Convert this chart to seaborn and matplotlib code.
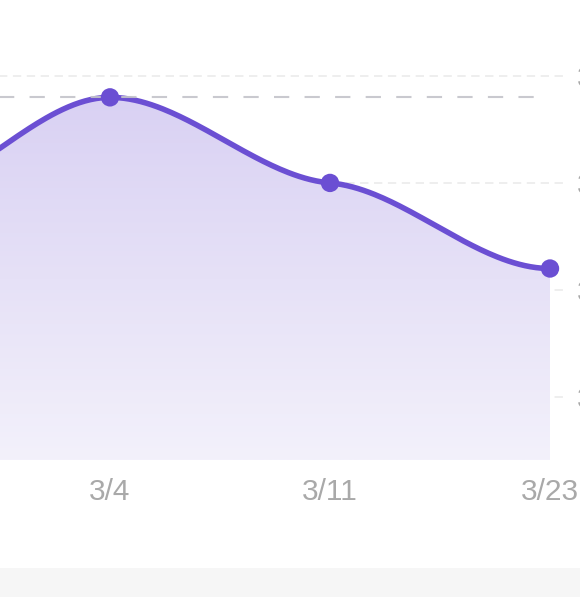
import numpy as np
import pandas as pd
import matplotlib
matplotlib.use("Agg")
import matplotlib.pyplot as plt
import seaborn as sns
from matplotlib.colors import LinearSegmentedColormap
from matplotlib.patches import Rectangle

# ---- data ----
dates = ["2/26", "3/4", "3/11", "3/23"]
values = [33.7, 35.6, 34.0, 32.4]
y_ticks = [30, 32, 34, 36]

LINE = "#6b4fd3"
GRAY_TXT = "#a9a9a9"


def smooth(xs, ys, n=80, k=0.22):
    # cubic hermite, flat at ends and at peaks
    xs = np.asarray(xs, float)
    ys = np.asarray(ys, float)
    m = np.zeros(len(ys))
    for i in range(1, len(ys) - 1):
        if (ys[i] - ys[i - 1]) * (ys[i + 1] - ys[i]) > 0:
            m[i] = k * (ys[i + 1] - ys[i - 1]) / (xs[i + 1] - xs[i - 1])
    out_x, out_y = [], []
    for i in range(len(xs) - 1):
        h = xs[i + 1] - xs[i]
        t = np.linspace(0, 1, n)
        h00 = 2 * t**3 - 3 * t**2 + 1
        h10 = t**3 - 2 * t**2 + t
        h01 = -2 * t**3 + 3 * t**2
        h11 = t**3 - t**2
        out_x.append(xs[i] + t * h)
        out_y.append(h00 * ys[i] + h10 * h * m[i] + h01 * ys[i + 1] + h11 * h * m[i + 1])
    return np.concatenate(out_x), np.concatenate(out_y)


sns.set_theme(style="white")
plt.rcParams["font.family"] = ["Liberation Sans", "DejaVu Sans"]
plt.rcParams["lines.scale_dashes"] = False

W, H = 580, 597
fig = plt.figure(figsize=(W / 100, H / 100), dpi=100)
fig.patch.set_facecolor("white")

# axes runs off the left edge of the canvas (cropped screenshot look)
left_px, right_px, bottom_px, top_px = -242, 567, 460, 0
ax = fig.add_axes([left_px / W, (H - bottom_px) / H,
                   (right_px - left_px) / W, (bottom_px - top_px) / H])

xpos = np.arange(len(dates))
sx, sy = smooth(xpos, values)
ybot = 28.82
ytop = 37.42

# gradient area under the curve
poly = ax.fill_between(sx, sy, ybot, color="none", lw=0)
cmap = LinearSegmentedColormap.from_list("fade", ["#f3f1fb", "#d9d1f3"])
grad = np.linspace(0, 1, 256).reshape(-1, 1)
im = ax.imshow(grad, extent=[sx[0], sx[-1], ybot, max(values)], aspect="auto",
               origin="lower", cmap=cmap, zorder=1)
im.set_clip_path(poly.get_paths()[0], transform=ax.transData)

curve = pd.DataFrame({"x": sx, "y": sy})
sns.lineplot(data=curve, x="x", y="y", ax=ax, color=LINE, lw=4.0, zorder=3,
             sort=False, estimator=None)

# dashed line at the max value
ax.hlines(max(values), -0.6, 2.99, colors="#c4c4ca", lw=1.5,
          linestyles=[(0, (11, 11))], zorder=4, alpha=0.9)

pts = pd.DataFrame({"x": xpos, "y": values})
sns.scatterplot(data=pts, x="x", y="y", ax=ax, color=LINE, s=175,
                edgecolor="none", zorder=5)

ax.set_xlim(-0.6, 3 + 17 / 220)
ax.set_ylim(ybot, ytop)
ax.set_xticks(xpos, dates)
ax.set_yticks(y_ticks, [str(v) for v in y_ticks])
ax.yaxis.tick_right()
ax.grid(axis="y", color="#e9e9e9", lw=1.1, linestyle=(0, (6, 4)))
ax.grid(axis="x", visible=False)
ax.tick_params(axis="x", length=0, pad=13, labelsize=21.5, labelcolor=GRAY_TXT)
ax.tick_params(axis="y", length=0, pad=7, labelsize=21.5, labelcolor=GRAY_TXT)
ax.set_xlabel("")
ax.set_ylabel("")
for s in ax.spines.values():
    s.set_visible(False)
ax.set_facecolor("none")

# grey band at the bottom
fig.patches.append(Rectangle((0, 0), 1, (H - 568) / H, transform=fig.transFigure,
                             facecolor="#f6f6f6", edgecolor="none", zorder=0))

fig.savefig("out.png", dpi=100)
